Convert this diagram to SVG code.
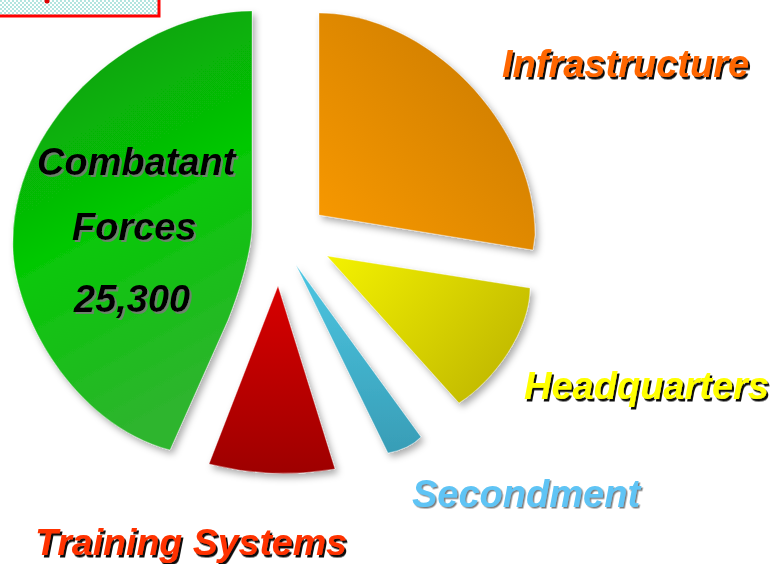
<svg xmlns="http://www.w3.org/2000/svg" width="776" height="564" viewBox="0 0 776 564">
  <defs>
    <style>
      .lbl { font-family: "Liberation Sans", Arial, sans-serif; font-weight: bold; font-style: italic; font-size: 38px; }
      .slice { stroke: rgba(255,255,255,0.35); stroke-width: 1; filter: url(#sliceShadow); }
    </style>
    <filter id="sliceShadow" x="-20%" y="-20%" width="140%" height="140%">
      <feDropShadow dx="3" dy="4" stdDeviation="3.5" flood-color="#000" flood-opacity="0.33"/>
    </filter>
    <filter id="shBlack" x="-5%" y="-20%" width="115%" height="150%">
      <feDropShadow dx="2" dy="2.5" stdDeviation="0.4" flood-color="#000" flood-opacity="0.95"/>
    </filter>
    <filter id="shGray" x="-5%" y="-20%" width="115%" height="150%">
      <feDropShadow dx="2" dy="2" stdDeviation="0.5" flood-color="#7a7a7a" flood-opacity="0.85"/>
    </filter>
    <filter id="shThin" x="-5%" y="-20%" width="115%" height="150%">
      <feDropShadow dx="1.5" dy="1.5" stdDeviation="0.5" flood-color="#444" flood-opacity="0.7"/>
    </filter>
    <linearGradient id="gGreen" x1="0" y1="0" x2="0.3" y2="1">
      <stop offset="0" stop-color="#0a930a"/>
      <stop offset="0.55" stop-color="#05c805"/>
      <stop offset="1" stop-color="#2db52d"/>
    </linearGradient>
    <linearGradient id="gOrange" x1="1" y1="0" x2="0" y2="1">
      <stop offset="0" stop-color="#c67806"/>
      <stop offset="1" stop-color="#fa9a02"/>
    </linearGradient>
    <linearGradient id="gYellow" x1="0" y1="0" x2="1" y2="0.6">
      <stop offset="0" stop-color="#f4f200"/>
      <stop offset="1" stop-color="#c2ba00"/>
    </linearGradient>
    <linearGradient id="gBlue" x1="0" y1="0" x2="0" y2="1">
      <stop offset="0" stop-color="#4cc6e2"/>
      <stop offset="1" stop-color="#389db6"/>
    </linearGradient>
    <linearGradient id="gRed" x1="0" y1="0" x2="0" y2="1">
      <stop offset="0" stop-color="#d80000"/>
      <stop offset="1" stop-color="#9e0000"/>
    </linearGradient>
    <pattern id="dots" width="4" height="4" patternUnits="userSpaceOnUse">
      <rect width="4" height="4" fill="#ffffff"/>
      <circle cx="1" cy="1" r="0.9" fill="#8fd8d0"/>
      <circle cx="3" cy="3" r="0.9" fill="#8fd8d0"/>
    </pattern>
  </defs>

  <rect width="776" height="564" fill="#ffffff"/>

  <g id="title-box">
    <rect x="-4" y="-4" width="163" height="20" fill="url(#dots)" stroke="#ff0000" stroke-width="3"/>
    <circle cx="47" cy="1" r="2.5" fill="#e00000"/>
  </g>

  <g id="slice-combatant">
    <path class="slice" fill="url(#gGreen)" d="M252,11 L252,225 C252,250 240,290 228,320 L170,450 C72,424 10,310 13,240 C15,115 140,11 252,11 Z"/>
  </g>

  <g id="slice-infrastructure">
    <path class="slice" fill="url(#gOrange)" d="M319,13 C427,13 535,124 535,235 L533,250 L319,215 Z"/>
  </g>

  <g id="slice-headquarters">
    <path class="slice" fill="url(#gYellow)" d="M327,256 L530,288 C530,330 495,380 459,403 Z"/>
  </g>

  <g id="slice-secondment">
    <path class="slice" fill="url(#gBlue)" d="M296,265 L421,437 Q409,449 388,453 Z"/>
  </g>

  <g id="slice-training">
    <path class="slice" fill="url(#gRed)" d="M278,286 L335,469 Q272,480 209,464 Z"/>
  </g>

  <g id="label-combatant">
    <text class="lbl" x="37" y="175" fill="#000000" filter="url(#shGray)">Combatant</text>
    <text class="lbl" x="72" y="240" fill="#000000" filter="url(#shGray)">Forces</text>
    <text class="lbl" x="74" y="312" fill="#000000" filter="url(#shGray)">25,300</text>
  </g>

  <g id="label-infrastructure">
    <text class="lbl" x="502" y="77" fill="#ff6600" filter="url(#shBlack)">Infrastructure</text>
  </g>

  <g id="label-headquarters">
    <text class="lbl" x="524" y="399" fill="#ffff00" filter="url(#shBlack)">Headquarters</text>
  </g>

  <g id="label-secondment">
    <text class="lbl" x="412" y="507" fill="#5ec4f5" filter="url(#shThin)">Secondment</text>
  </g>

  <g id="label-training">
    <text class="lbl" x="35" y="555" fill="#ff3300" filter="url(#shBlack)" style="font-size:37.5px">Training Systems</text>
  </g>
</svg>
